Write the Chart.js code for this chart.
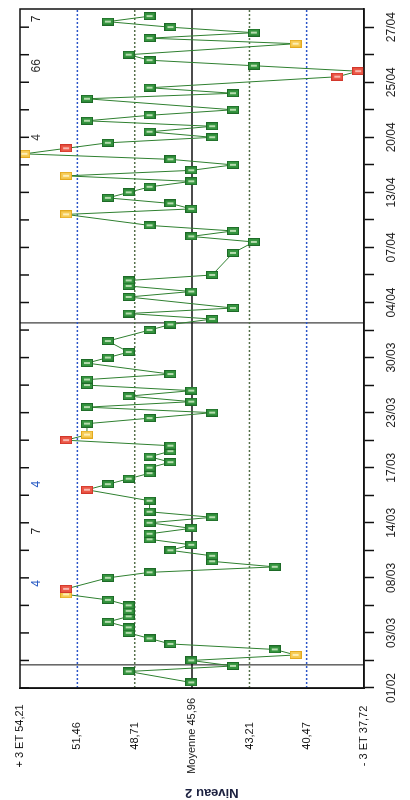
<!DOCTYPE html>
<html>
<head>
<meta charset="utf-8">
<script src="https://cdn.jsdelivr.net/npm/chart.js@4.4.1/dist/chart.umd.min.js"></script>
<style>
  html, body { margin: 0; padding: 0; background: #fff; overflow: hidden; }
  /* the chart is drawn landscape, then turned a quarter left like the scan */
  #wrap { position: absolute; left: 0; top: 0; width: 800px; height: 410px;
          transform-origin: 0 0; transform: translate(0, 800px) rotate(-90deg); }
</style>
</head>
<body>
<div id="wrap"><canvas id="qc" width="800" height="410"></canvas></div>
<script>
// one value per run (run 1 .. 122), null = no result for that run
const values = [
  46, null, 49, 44, 46, 41, 42, 47, 48, 49,
  49, 50, 49, 49, 49, 50, 52, 52, null, 50,
  48, 42, 45, 45, 47, 46, 48, 48, 46, 48,
  45, 48, null, 48, null, 51, 50, 49, 48, 48,
  47, 48, 47, 47, 52, 51, null, 51, 48, 45,
  51, 46, 49, 46, 51, 51, 47, null, 51, 50,
  49, null, 50, null, 48, 47, 45, 49, 44, null,
  49, 46, 49, 49, 45, null, null, null, 44, null,
  43, 46, 44, 48, null, 52, 46, 47, 50, 49,
  48, 46, 52, 46, 44, 47, 54, 52, 50, 45,
  48, 45, 51, 48, 44, null, 51, 44, 48, null,
  39, 38, 43, 48, 49, null, 41, 48, 43, 47,
  50, 48
];
const warnRuns = [6, 17, 46, 86, 93, 97, 117];   // yellow
const rejectRuns = [18, 36, 45, 98, 111, 112];   // red

const limits = [37.72, 40.47, 43.21, 45.96, 48.71, 51.46, 54.21];
const limitLabels = ['- 3 ET 37,72', '40,47', '43,21', 'Moyenne 45,96', '48,71', '51,46', '+ 3 ET 54,21'];

// date shown every 10 runs
const dateLabels = ['01/02', '03/03', '08/03', '14/03', '17/03', '23/03', '30/03',
                    '04/04', '07/04', '13/04', '20/04', '25/04', '27/04'];

const lotChanges = [4.2, 66.3];

const flagRuns = [19, 28.5, 37, 100, 113, 121.5];
const flagTexts = ['4', '7', '4', '4', '66', '7'];
const flagColors = ['#2a5cc4', '#222', '#2a5cc4', '#444', '#333', '#222'];

const xMax = 123.3;

function marker(edge, fill, bar) {
  const c = document.createElement('canvas');
  c.width = 8; c.height = 12;
  const g = c.getContext('2d');
  g.fillStyle = edge; g.fillRect(0, 0, 8, 12);
  g.fillStyle = fill; g.fillRect(1, 1, 6, 10);
  g.fillStyle = bar; g.fillRect(3, 3, 2, 6);
  return c;
}
const mkGreen = marker('#1d6a27', '#35953f', '#b5dcae');
const mkYellow = marker('#e3a91f', '#f6cb55', '#fdeeb5');
const mkRed = marker('#d2372b', '#ec5847', '#f9b7ae');

function markerFor(run) {
  if (rejectRuns.includes(run)) return mkRed;
  if (warnRuns.includes(run)) return mkYellow;
  return mkGreen;
}

const points = values.map((v, i) => ({ x: i + 1, y: v }));

function hline(v, color, dash, width) {
  return { data: [{ x: 0, y: v }, { x: xMax, y: v }], borderColor: color, borderDash: dash,
           borderWidth: width, pointRadius: 0, order: 2 };
}
function vline(r) {
  return { data: [{ x: r, y: limits[0] }, { x: r, y: limits[6] }], borderColor: '#111',
           borderWidth: 1, pointRadius: 0, order: 2 };
}

const qcFrame = {
  id: 'qcFrame',
  afterDatasetsDraw(chart) {
    const { ctx, chartArea: a, scales: { x } } = chart;
    ctx.save();
    ctx.strokeStyle = '#111';
    ctx.lineWidth = 1.5;
    ctx.strokeRect(a.left, a.top, a.right - a.left, a.bottom - a.top);
    // inner tick marks along the top edge
    x.ticks.forEach(t => {
      const px = x.getPixelForValue(t.value);
      ctx.beginPath();
      ctx.moveTo(px, a.top);
      ctx.lineTo(px, a.top + 9);
      ctx.stroke();
    });
    ctx.font = '12px "Liberation Sans", Arial, sans-serif';
    ctx.textAlign = 'center';
    ctx.textBaseline = 'middle';
    flagRuns.forEach((r, i) => {
      ctx.fillStyle = flagColors[i];
      ctx.fillText(flagTexts[i], x.getPixelForValue(r), a.top + 17);
    });
    ctx.restore();
  }
};

Chart.defaults.font.family = '"Liberation Sans", Arial, sans-serif';

new Chart(document.getElementById('qc'), {
  type: 'line',
  data: {
    datasets: [
      {
        data: points,
        borderColor: '#2f8030',
        borderWidth: 1,
        spanGaps: true,
        pointRadius: 4,
        pointStyle: ctx => markerFor(ctx.dataIndex + 1),
        order: 0
      },
      hline(limits[3], '#111', [], 1.5),
      hline(limits[2], '#55704a', [2, 2], 1.5),
      hline(limits[4], '#55704a', [2, 2], 1.5),
      hline(limits[1], '#2b55c8', [2, 2], 1.5),
      hline(limits[5], '#2b55c8', [2, 2], 1.5),
      ...lotChanges.map(vline)
    ]
  },
  options: {
    responsive: false,
    devicePixelRatio: 1,
    animation: false,
    layout: { padding: { left: 0, right: 9, top: 20, bottom: 0 } },
    plugins: { legend: { display: false }, tooltip: { enabled: false } },
    scales: {
      x: {
        type: 'linear',
        min: 0,
        max: xMax,
        grid: { drawOnChartArea: false, drawTicks: true, tickLength: 10, tickColor: '#111', tickWidth: 1.5 },
        border: { color: '#111', width: 1.5 },
        ticks: {
          stepSize: 5,
          autoSkip: false,
          includeBounds: false,
          maxRotation: 0,
          padding: 10,
          color: '#222',
          font: { size: 12 },
          callback: v => (v % 10 === 0 ? dateLabels[v / 10] : '')
        },
        afterFit: s => { s.height = 46; }
      },
      y: {
        min: limits[0],
        max: limits[6],
        afterBuildTicks: s => { s.ticks = limits.map(v => ({ value: v })); },
        grid: { display: false, drawTicks: false },
        border: { color: '#111', width: 1.5 },
        ticks: {
          autoSkip: false,
          crossAlign: 'center',
          padding: 10,
          color: '#151515',
          font: { size: 11 },
          callback: (v, i) => limitLabels[i]
        },
        title: {
          display: true,
          // trailing blanks push the centred title a little toward the low end, as on the scan
          text: 'Niveau 2' + ' '.repeat(11),
          color: '#1c2140',
          font: { size: 13, weight: 'bold' },
          padding: { top: 0, bottom: 0 }
        },
        afterFit: s => { s.width = 112; }
      }
    }
  },
  plugins: [qcFrame]
});
</script>
</body>
</html>
